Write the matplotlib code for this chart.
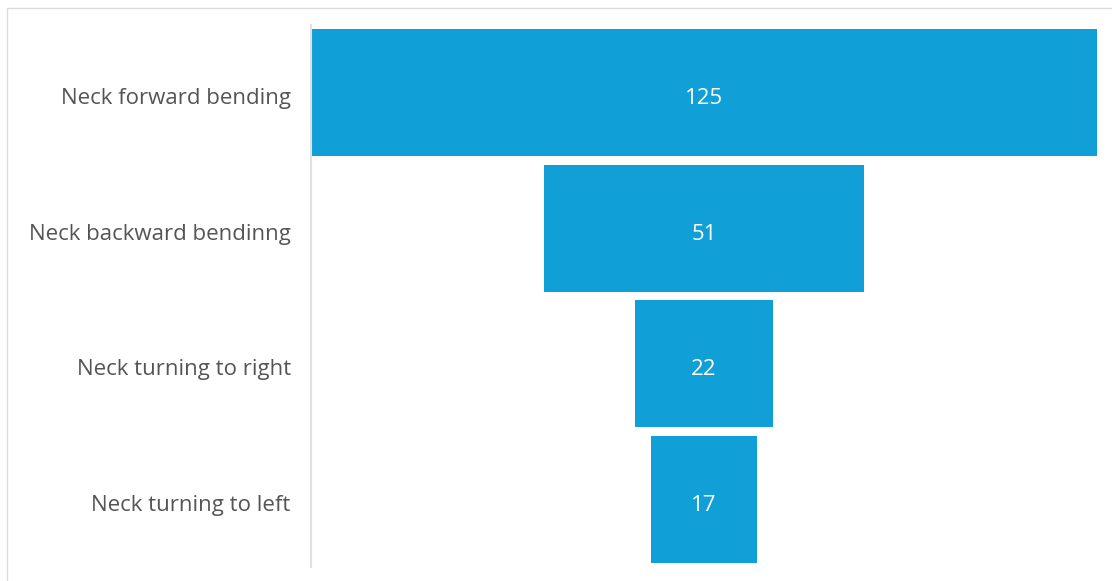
import matplotlib.pyplot as plt
from matplotlib.patches import Rectangle
from matplotlib.transforms import ScaledTranslation

# funnel data, top to bottom
stages = ["Neck forward bending", "Neck backward bendinng", "Neck turning to right", "Neck turning to left"]
counts = [125, 51, 22, 17]

bar_color = "#109fd6"
text_color = "#555555"

plt.rcParams['font.family'] = ['Open Sans', 'DejaVu Sans']

fig = plt.figure(figsize=(11.12, 5.81), dpi=100)
ax = fig.add_axes([311 / 1112, 1 - 567 / 581, (1097 - 311) / 1112, (567 - 25) / 581])

# nudge text down a few pixels
shift = ScaledTranslation(0, -0.035, fig.dpi_scale_trans)

ypos = list(range(len(stages)))
# bars centered on zero so they stack into a funnel
lefts = [-c / 2 for c in counts]
ax.barh(ypos, counts, left=lefts, height=0.94, color=bar_color)

for y, c in zip(ypos, counts):
    ax.text(0, y, str(c), ha="center", va="center_baseline", color="white", fontsize=16,
            transform=ax.transData + shift)

ax.set_xlim(-max(counts) / 2, max(counts) / 2)
ax.set_ylim(len(stages) - 0.5, -0.5)
ax.set_yticks(ypos)
ax.set_yticklabels(stages, fontsize=16, color=text_color, va="center_baseline")
ax.tick_params(axis="y", length=0, pad=14.5)
ax.set_xticks([])
for label in ax.get_yticklabels():
    label.set_transform(label.get_transform() + shift)

for side in ["top", "right", "bottom"]:
    ax.spines[side].set_visible(False)
ax.spines["left"].set_color("#e0e0e0")
ax.spines["left"].set_linewidth(1.5)

# light frame along top and left edges
fig.patches.append(Rectangle((7 / 1112, -0.1), 1.2, 1 - 8 / 581 + 0.1, transform=fig.transFigure,
                             fill=False, edgecolor="#dcdcdc", linewidth=1))

fig.savefig("out.png", dpi=100)
